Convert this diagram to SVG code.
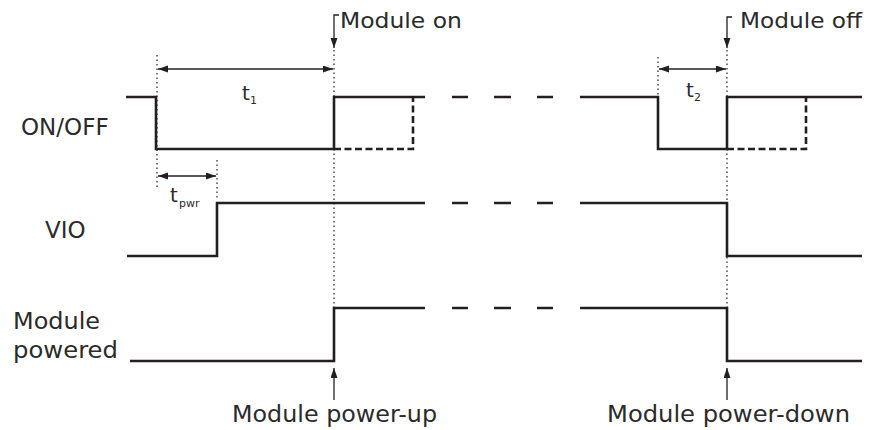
<svg xmlns="http://www.w3.org/2000/svg" width="871" height="430" viewBox="0 0 871 430">
<defs>
<marker id="ah" markerUnits="userSpaceOnUse" markerWidth="11" markerHeight="8" refX="10" refY="3.5" orient="auto-start-reverse">
<path d="M0,0 L10,3.5 L0,7 z" fill="#231f20"/>
</marker>
<style>
.sig{fill:none;stroke:#231f20;stroke-width:2.6;stroke-linejoin:miter;stroke-linecap:butt}
.dsig{fill:none;stroke:#231f20;stroke-width:2.6;stroke-dasharray:7 3.5}
.dot{fill:none;stroke:#231f20;stroke-width:1.2;stroke-dasharray:1.5 3}
.arr{fill:none;stroke:#231f20;stroke-width:1.3}
.lbl{font-family:"DejaVu Sans",sans-serif;font-size:23px;fill:#2b2b2b}
.top{font-family:"DejaVu Sans",sans-serif;font-size:22px;fill:#2b2b2b}
.t{font-family:"DejaVu Sans",sans-serif;font-size:20px;fill:#2b2b2b}
.sub{font-family:"DejaVu Sans",sans-serif;font-size:11px;fill:#2b2b2b}
</style>
</defs>
<rect width="871" height="430" fill="#fff"/>
<g id="labels">
<text class="lbl" x="21" y="135">ON/OFF</text>
<text class="lbl" x="45" y="238">VIO</text>
<text class="lbl" x="13" y="329" textLength="87" lengthAdjust="spacingAndGlyphs">Module</text>
<text class="lbl" x="13" y="358" textLength="105" lengthAdjust="spacingAndGlyphs">powered</text>
</g>
<g id="sig-onoff">
<path class="sig" d="M126,97 H156 V149 H334 V97 H425"/>
<path class="dsig" d="M334,149 H413 V97"/>
<path class="sig" d="M452,97 H468 M494,97 H511 M537,97 H553"/>
<path class="sig" d="M580,97 H658 V149 H727 V97 H862"/>
<path class="dsig" d="M727,149 H806 V97"/>
</g>
<g id="sig-vio">
<path class="sig" d="M127,256 H217 V203 H425"/>
<path class="sig" d="M452,203 H468 M494,203 H511 M537,203 H553"/>
<path class="sig" d="M580,203 H727 V256 H862"/>
</g>
<g id="sig-powered">
<path class="sig" d="M130,361 H334 V308 H425"/>
<path class="sig" d="M452,308 H468 M494,308 H511 M537,308 H553"/>
<path class="sig" d="M580,308 H727 V361 H862"/>
</g>
<g id="connectors">
<path class="dot" d="M157,55 V189"/>
<path class="dot" d="M217,160 V198"/>
<path class="dot" d="M334,50 V307"/>
<path class="dot" d="M658,57 V96"/>
<path class="dot" d="M727,50 V307"/>
<path class="arr" d="M158,69 H333" marker-start="url(#ah)" marker-end="url(#ah)"/>
<path class="arr" d="M158,176 H216" marker-start="url(#ah)" marker-end="url(#ah)"/>
<path class="arr" d="M659,69 H726" marker-start="url(#ah)" marker-end="url(#ah)"/>
<path class="arr" d="M339,15 H334 V48" marker-end="url(#ah)"/>
<path class="arr" d="M732,17 H727 V48" marker-end="url(#ah)"/>
<path class="arr" d="M334,400 V368" marker-end="url(#ah)"/>
<path class="arr" d="M727,400 V368" marker-end="url(#ah)"/>
</g>
<g id="annotations">
<text class="top" x="340" y="28" textLength="122" lengthAdjust="spacingAndGlyphs">Module on</text>
<text class="top" x="740" y="28" textLength="122" lengthAdjust="spacingAndGlyphs">Module off</text>
<text class="lbl" x="232" y="422" textLength="205" lengthAdjust="spacingAndGlyphs">Module power-up</text>
<text class="lbl" x="607" y="422" textLength="243" lengthAdjust="spacingAndGlyphs">Module power-down</text>
<text class="t" x="242" y="100">t</text><text class="sub" x="250" y="104">1</text>
<text class="t" x="686" y="97">t</text><text class="sub" x="694" y="101">2</text>
<text class="t" x="170" y="202">t</text><text class="sub" x="179" y="207">pwr</text>
</g>
</svg>
